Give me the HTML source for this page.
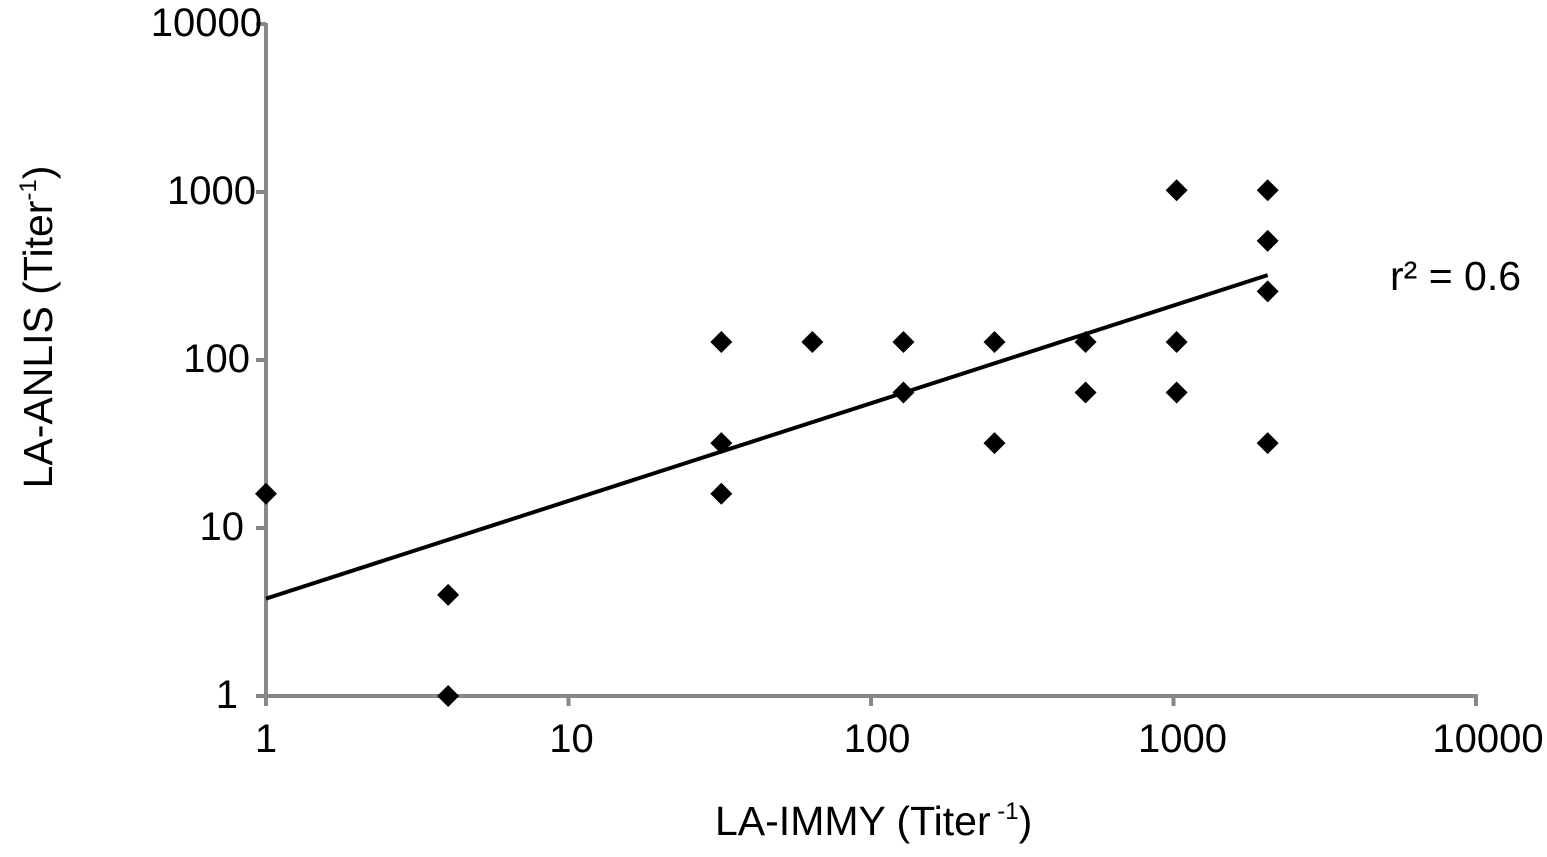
<!DOCTYPE html>
<html><head><meta charset="utf-8"><style>
html,body{margin:0;padding:0;background:#fff;}
svg{display:block;font-family:"Liberation Sans",Arial,sans-serif;}
</style></head><body>
<svg id="chart" width="1547" height="857" viewBox="0 0 1547 857" xmlns="http://www.w3.org/2000/svg">
<g id="axes"></g>
<g id="marks"></g>
<text x="1390" y="290" font-size="41">r² = 0.6</text>
<text x="715" y="835" font-size="41">LA-IMMY  (Titer<tspan font-size="24" dy="-16"> -1</tspan><tspan dy="16">)</tspan></text>
<text transform="translate(52,327) rotate(-90)" text-anchor="middle" font-size="41">LA-ANLIS (Titer<tspan font-size="24" dy="-16">-1</tspan><tspan dy="16">)</tspan></text>
</svg>
<script>
const xTicks=[1,10,100,1000,10000];
const yTicks=[1,10,100,1000,10000];
const xVals=[1,4,4,32,32,32,64,128,128,256,256,512,512,1024,1024,1024,2048,2048,2048,2048];
const yVals=[16,4,1,128,32,16,128,128,64,128,32,128,64,1024,128,64,1024,512,256,32];
const trendX=[1,2048];
const trendY=[3.8,320];
const X0=266,X1=1476,Y0=696,Y1=24;
function sx(v){return X0+Math.log10(v)/4*(X1-X0);}
function sy(v){return Y0-Math.log10(v)/4*(Y0-Y1);}
const NS="http://www.w3.org/2000/svg";
const axes=document.getElementById('axes'),marks=document.getElementById('marks');
function mk(tag,attrs,parent){const e=document.createElementNS(NS,tag);for(const k in attrs)e.setAttribute(k,attrs[k]);parent.appendChild(e);return e;}
let l=mk('line',{x1:X0,y1:Y1-1,x2:X0,y2:Y0+2,stroke:'#888','stroke-width':4},axes);


l=mk('line',{x1:X0-2,y1:Y0,x2:X1+2,y2:Y0,stroke:'#888','stroke-width':4},axes);


xTicks.forEach(v=>{
 const t=mk('line',{x1:sx(v),y1:Y0,x2:sx(v),y2:Y0+10,stroke:'#888','stroke-width':4},axes);
 
 
 const tx=mk('text',{x:sx(v)+3*Math.log10(v),y:752,'text-anchor':'middle','font-size':40},axes);
 tx.textContent=v;
 
 
});
yTicks.forEach(v=>{
 const t=mk('line',{x1:X0-10,y1:sy(v),x2:X0,y2:sy(v),stroke:'#888','stroke-width':4},axes);
 
 
 const tx=mk('text',{x:238+6*Math.log10(v),y:sy(v)+12,'text-anchor':'end','font-size':40},axes);
 tx.textContent=v;
 
 
});
const tl=mk('line',{x1:sx(trendX[0]),y1:sy(trendY[0]),x2:sx(trendX[1]),y2:sy(trendY[1]),stroke:'#000','stroke-width':4},marks);


xVals.forEach((xv,i)=>{
 const cx=sx(xv),cy=sy(yVals[i]),r=11;
 const p=mk('polygon',{points:`${cx},${cy-r} ${cx+r},${cy} ${cx},${cy+r} ${cx-r},${cy}`,fill:'#000'},marks);
 
 
});
</script>
</body></html>
